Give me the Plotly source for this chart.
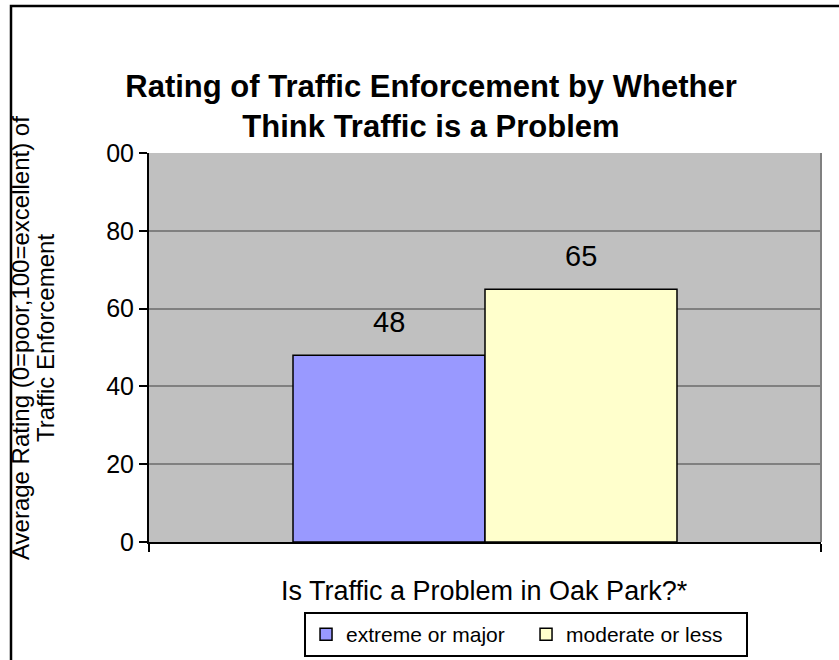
import plotly.graph_objects as go

# data
group = ["Is Traffic a Problem in Oak Park?*"]
series_names = ["extreme or major", "moderate or less"]
series_values = [48, 65]
series_colors = ["#9999FF", "#FFFFCC"]
label_shift = [-96, 96]

y_ticks = [0, 20, 40, 60, 80, 100]
y_tick_text = ["0", "20", "40", "60", "80", "00"]

title_text = "<b>Rating of Traffic Enforcement by Whether<br>Think Traffic is a Problem</b>"
y_title_lines = ["Average Rating (0=poor,100=excellent) of", "Traffic Enforcement"]
x_title = "Is Traffic a Problem in Oak Park?*"

FONT = "Liberation Sans, Arial, sans-serif"

fig = go.Figure()
for name, val, col in zip(series_names, series_values, series_colors):
    fig.add_trace(go.Bar(
        x=group,
        y=[val],
        name=name,
        marker=dict(color=col, line=dict(color="black", width=1.5)),
    ))

# value labels above the bars
for val, dx in zip(series_values, label_shift):
    fig.add_annotation(
        x=group[0], y=val, text=str(val), showarrow=False,
        xshift=dx, yshift=15, yanchor="bottom",
        font=dict(size=29, color="black"),
    )

fig.update_layout(
    width=839,
    height=660,
    margin=dict(l=149, r=18, t=153, b=118, autoexpand=False),
    paper_bgcolor="white",
    plot_bgcolor="#C0C0C0",
    font=dict(family=FONT, color="black"),
    barmode="group",
    bargap=0.4286,
    bargroupgap=0,
    showlegend=True,
    legend=dict(
        orientation="h",
        x=0.2307,
        xanchor="left",
        y=-0.18,
        yanchor="top",
        bordercolor="black",
        borderwidth=2,
        bgcolor="white",
        font=dict(size=21),
        entrywidth=175,
        itemclick=False,
    ),
    title=dict(
        text=title_text,
        x=431 / 839,
        xanchor="center",
        xref="container",
        y=1 - 97 / 660,
        yanchor="middle",
        yref="container",
        font=dict(size=31, color="black"),
    ),
)

fig.update_xaxes(
    type="category",
    showticklabels=False,
    tickson="boundaries",
    ticks="outside",
    ticklen=8,
    tickwidth=2,
    tickcolor="black",
    showline=True,
    linecolor="black",
    linewidth=2,
    showgrid=False,
    zeroline=False,
)
fig.update_yaxes(
    range=[0, 100],
    tickvals=y_ticks,
    ticktext=y_tick_text,
    ticks="outside",
    ticklen=8,
    tickwidth=2,
    tickcolor="black",
    tickfont=dict(size=25),
    showline=True,
    linecolor="black",
    linewidth=2,
    showgrid=True,
    gridcolor="#808080",
    gridwidth=1.5,
    zeroline=False,
)

# right border of plot area (gray) and outer chart frame
fig.add_shape(type="line", xref="paper", yref="paper", x0=1, x1=1, y0=0, y1=1,
              line=dict(color="#808080", width=2))
fig.add_shape(type="rect", xref="paper", yref="paper",
              x0=(11 - 149) / 672, x1=1.2, y0=-0.5, y1=(542 - 6) / 389,
              line=dict(color="black", width=2.5), layer="below")

# y-axis title, two rotated lines
for line, px in zip(y_title_lines, [20, 45]):
    fig.add_annotation(
        text=line, textangle=-90, showarrow=False,
        xref="paper", yref="paper", x=(px - 149) / 672, y=(542 - 338) / 389,
        xanchor="center", yanchor="middle", font=dict(size=24),
    )
fig.add_annotation(
    text=x_title, showarrow=False,
    xref="paper", yref="paper", x=(484 - 149) / 672, y=(542 - 591) / 389,
    xanchor="center", yanchor="middle", font=dict(size=27),
)

fig.write_html("out.html", config={"displayModeBar": False},
               post_script="document.body.style.margin='0';")
